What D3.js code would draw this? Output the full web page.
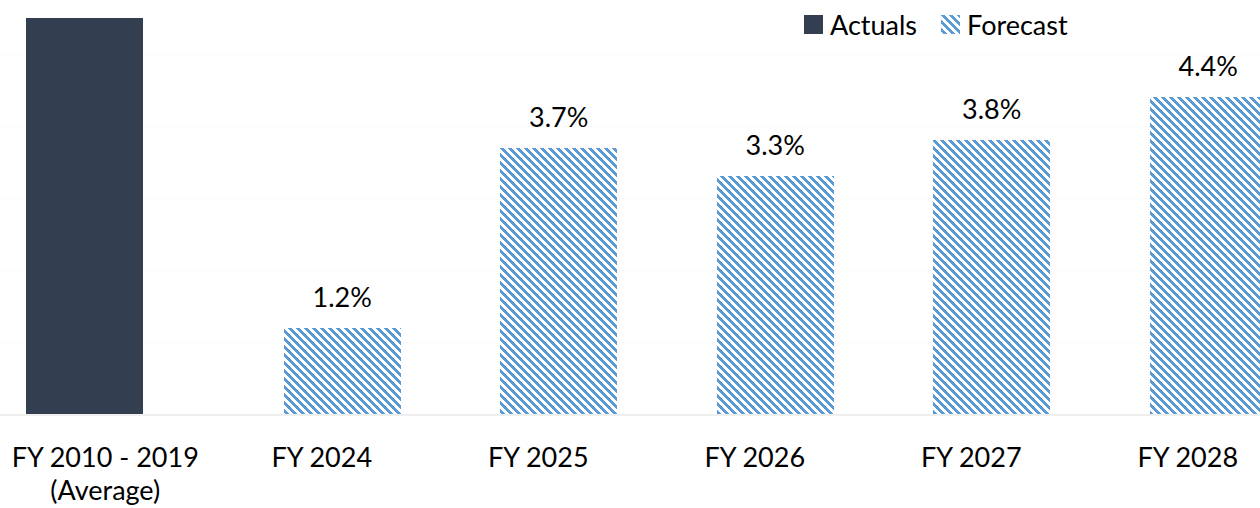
<!DOCTYPE html>
<html>
<head>
<meta charset="utf-8">
<script src="https://cdn.jsdelivr.net/npm/d3@7"></script>
<style>
  html, body { margin: 0; padding: 0; background: #fff; overflow: hidden; }
  svg { display: block; font-family: Lato, "Open Sans", sans-serif; }
</style>
</head>
<body>
<div id="chart"></div>
<script>
// dados do gráfico
const categories = ["FY 2010 - 2019|(Average)", "FY 2024", "FY 2025", "FY 2026", "FY 2027", "FY 2028"];
const actuals = [5.5, null, null, null, null, null];
const forecast = [null, 1.2, 3.7, 3.3, 3.8, 4.4];
const yTicks = [0, 1, 2, 3, 4, 5];
const seriesNames = ["Actuals", "Forecast"];

const width = 1260, height = 508;
const fontSize = 27;

const svg = d3.select("#chart").append("svg")
    .attr("width", width)
    .attr("height", height);

// padrão listrado (tipo "wide downward diagonal" do Excel)
const defs = svg.append("defs");
const pat = defs.append("pattern")
    .attr("id", "hatch")
    .attr("patternUnits", "userSpaceOnUse")
    .attr("width", 8).attr("height", 8);
pat.append("rect").attr("width", 8).attr("height", 8).attr("fill", "#ffffff");
d3.range(8).forEach(r => {
    pat.append("rect").attr("x", r).attr("y", r).attr("width", 4).attr("height", 1).attr("fill", "#5b9bd5");
    pat.append("rect").attr("x", r - 8).attr("y", r).attr("width", 4).attr("height", 1).attr("fill", "#5b9bd5");
});

const x = d3.scaleBand()
    .domain(categories)
    .range([-3, 1296])
    .padding(0);

const y = d3.scaleLinear()
    .domain([0, 5.5])
    .range([414, 18]);

const barW = 117;
const offset = { Actuals: -20.5, Forecast: 20.5 };
const colors = { Actuals: "#333f50", Forecast: "url(#hatch)" };

// linhas de grade
svg.append("g")
    .selectAll("line")
    .data(yTicks.filter(t => t > 0))
    .join("line")
    .attr("x1", 0).attr("x2", width)
    .attr("y1", d => Math.round(y(d)) + 0.5)
    .attr("y2", d => Math.round(y(d)) + 0.5)
    .attr("stroke", "#fafafa")
    .attr("stroke-width", 1);

const center = c => x(c) + x.bandwidth() / 2;

// barras
const series = [
    { name: "Actuals", values: actuals, label: false },
    { name: "Forecast", values: forecast, label: true }
];

series.forEach(s => {
    const data = categories.map((c, i) => ({ c, v: s.values[i] })).filter(d => d.v != null);
    svg.append("g")
        .selectAll("rect")
        .data(data)
        .join("rect")
        .attr("x", d => center(d.c) + offset[s.name] - barW / 2)
        .attr("width", barW)
        .attr("y", d => y(d.v))
        .attr("height", d => y(0) - y(d.v))
        .attr("fill", colors[s.name])
        .attr("shape-rendering", "crispEdges");

    // rótulos de valor (o da barra de média fica fora da área visível)
    if (!s.label) return;
    svg.append("g")
        .selectAll("text")
        .data(data)
        .join("text")
        .attr("x", d => center(d.c) + offset[s.name])
        .attr("y", d => y(d.v) - 21)
        .attr("text-anchor", "middle")
        .attr("font-size", fontSize)
        .attr("fill", "#000")
        .text(d => d.v.toFixed(1) + "%");
});

// linha de base
svg.append("line")
    .attr("x1", 0).attr("x2", width)
    .attr("y1", y(0) + 1).attr("y2", y(0) + 1)
    .attr("stroke", "#efefef")
    .attr("stroke-width", 2);

// eixo x
const xAxis = svg.append("g")
    .attr("transform", `translate(0,${y(0)})`)
    .call(d3.axisBottom(x).tickSize(0).tickPadding(0).tickFormat(""));
xAxis.select(".domain").remove();

xAxis.selectAll(".tick").each(function(d) {
    const lines = d.split("|");
    const t = d3.select(this).append("text")
        .attr("text-anchor", "middle")
        .attr("fill", "#000")
        .attr("font-size", fontSize)
        .attr("font-family", "Lato, 'Open Sans', sans-serif");
    lines.forEach((l, i) => {
        t.append("tspan").attr("x", 0).attr("y", 53 + i * 33).text(l);
    });
});

// legenda
const legend = svg.append("g").attr("transform", "translate(804,15)");
let lx = 0;
seriesNames.forEach((name, i) => {
    const item = legend.append("g").attr("transform", `translate(${lx},0)`);
    item.append("rect")
        .attr("width", 19).attr("height", 19)
        .attr("fill", colors[name])
        .attr("shape-rendering", "crispEdges");
    const txt = item.append("text")
        .attr("x", 26).attr("y", 20)
        .attr("font-size", fontSize)
        .attr("fill", "#000")
        .text(name);
    lx += 26 + txt.node().getComputedTextLength() + 24;
});
</script>
</body>
</html>
